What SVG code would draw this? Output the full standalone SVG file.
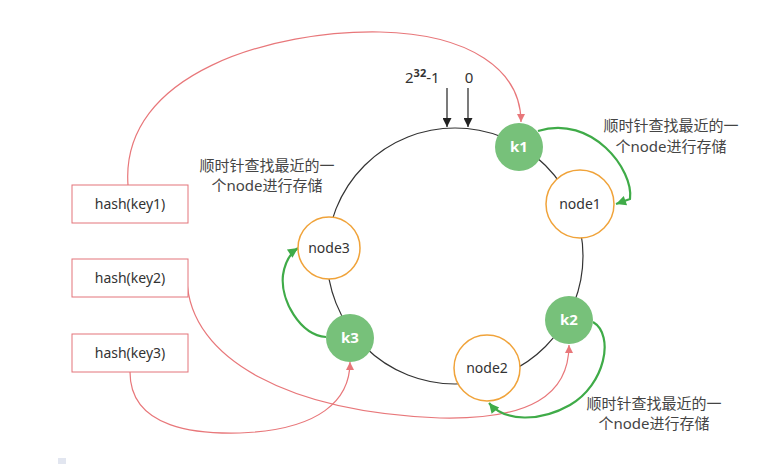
<svg xmlns="http://www.w3.org/2000/svg" width="772" height="464" viewBox="0 0 772 464">
<defs>
<style>
text{font-family:"Noto Sans","Noto Sans CJK SC","Liberation Sans",sans-serif;fill:#333}
.box{fill:#fff;stroke:#e3747a;stroke-width:1}
.node{fill:#fff;stroke:#f0a33a;stroke-width:1.5}
.key{fill:#77c17a;stroke:none}
.ktxt{fill:#fff;font-size:15px;font-weight:bold}
.ntxt{font-size:14px}
.lbl{font-size:15px;fill:#444}
.red{fill:none;stroke:#e8777a;stroke-width:1.2}
.grn{fill:none;stroke:#3fab48;stroke-width:2.2}
.blk{fill:none;stroke:#222;stroke-width:1.2}
</style>
<marker id="ar" viewBox="0 0 10 10" refX="10" refY="5" markerWidth="8" markerHeight="12" markerUnits="userSpaceOnUse" orient="auto"><path d="M0,0 L10,5 L0,10 z" fill="#e8777a"/></marker>
<marker id="ag" viewBox="0 0 10 10" refX="10" refY="5" markerWidth="15" markerHeight="10" markerUnits="userSpaceOnUse" orient="auto"><path d="M0,0 L10,5 L0,10 z" fill="#3fab48"/></marker>
<marker id="ab" viewBox="0 0 10 10" refX="10" refY="5" markerWidth="11" markerHeight="9" markerUnits="userSpaceOnUse" orient="auto"><path d="M0,0 L10,5 L0,10 z" fill="#222"/></marker>
</defs>
<rect width="772" height="464" fill="#fff"/>
<rect x="58" y="458" width="8" height="6" fill="#e2e6f0"/>
<circle id="ring" cx="455" cy="256" r="128" fill="none" stroke="#333" stroke-width="1.2"/>
<g id="connectors">
<path class="blk" d="M447,88 L447,127" marker-end="url(#ab)"/>
<path class="blk" d="M468,88 L468,127" marker-end="url(#ab)"/>
<path class="red" d="M128,185 C120,72 275,30 380,32 C470,34 521,70 521,122" marker-end="url(#ar)"/>
<path class="red" d="M187,280 C190,360 290,412 440,418 C530,420 569,395 569,345" marker-end="url(#ar)"/>
<path class="red" d="M130,372 C130,430 200,434 240,433 C320,430 350,400 350,362" marker-end="url(#ar)"/>
<path class="grn" d="M538,131 C592,114 634,170 630,199 L616,204" marker-end="url(#ag)"/>
<path class="grn" d="M593,322 C615,335 605,385 570,405 C540,422 505,422 489,403" marker-end="url(#ag)"/>
<path class="grn" d="M326,337 C300,335 280,300 283,275 C285,262 289,254 298,248" marker-end="url(#ag)"/>
</g>
<g id="node1"><circle class="node" cx="580" cy="204" r="34"/><text class="ntxt" x="580" y="209" text-anchor="middle">node1</text></g>
<g id="node2"><circle class="node" cx="487" cy="368" r="33"/><text class="ntxt" x="487" y="373" text-anchor="middle">node2</text></g>
<g id="node3"><circle class="node" cx="329" cy="248" r="31"/><text class="ntxt" x="329" y="253" text-anchor="middle">node3</text></g>
<g id="k1"><circle class="key" cx="519" cy="147" r="24"/><text class="ktxt" x="519" y="152" text-anchor="middle">k1</text></g>
<g id="k2"><circle class="key" cx="569" cy="320" r="24"/><text class="ktxt" x="569" y="325" text-anchor="middle">k2</text></g>
<g id="k3"><circle class="key" cx="350" cy="338" r="24"/><text class="ktxt" x="350" y="343" text-anchor="middle">k3</text></g>
<g id="hash1"><rect class="box" x="72" y="185" width="116" height="38"/><text class="ntxt" x="130" y="209" text-anchor="middle">hash(key1)</text></g>
<g id="hash2"><rect class="box" x="72" y="259" width="116" height="38"/><text class="ntxt" x="130" y="283" text-anchor="middle">hash(key2)</text></g>
<g id="hash3"><rect class="box" x="72" y="334" width="116" height="38"/><text class="ntxt" x="130" y="358" text-anchor="middle">hash(key3)</text></g>
<g id="labels">
<text x="405" y="83" font-size="15">2<tspan dy="-6" font-size="11" font-weight="bold">32</tspan><tspan dy="6">-1</tspan></text>
<text x="469" y="83" font-size="15" text-anchor="middle">0</text>
<text class="lbl" text-anchor="middle"><tspan x="671" y="131">顺时针查找最近的一</tspan><tspan x="671" y="152">个node进行存储</tspan></text>
<text class="lbl" text-anchor="middle"><tspan x="654" y="409">顺时针查找最近的一</tspan><tspan x="654" y="429">个node进行存储</tspan></text>
<text class="lbl" text-anchor="middle"><tspan x="267" y="171">顺时针查找最近的一</tspan><tspan x="267" y="191">个node进行存储</tspan></text>
</g>
</svg>
